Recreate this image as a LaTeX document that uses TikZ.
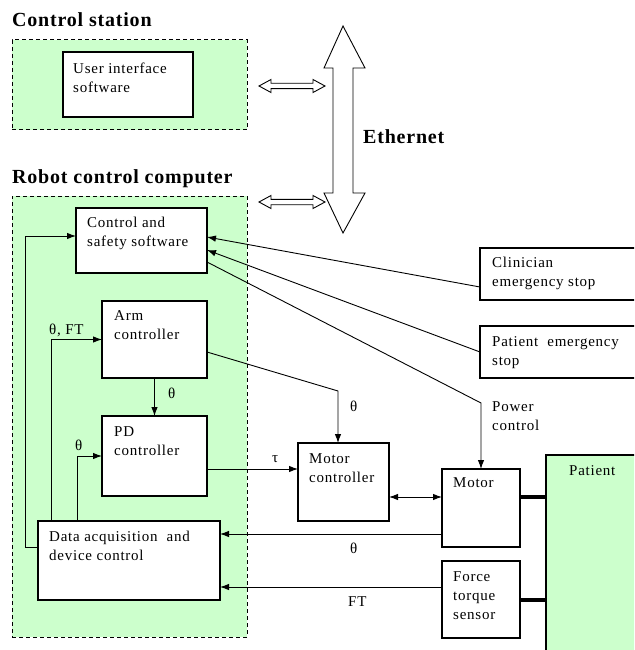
\documentclass[tikz,border=0pt]{standalone}
\usepackage{fontspec}
\setmainfont{Liberation Serif}
\newfontfamily\boxfont[LetterSpace=5]{Liberation Serif}
\newfontfamily\headfont[LetterSpace=4]{Liberation Serif}
\usetikzlibrary{arrows.meta,calc}
\definecolor{zonegreen}{RGB}{204,255,204}

\tikzset{
  zone/.style={draw, dash pattern=on 4pt off 3pt, fill=zonegreen, line width=1pt, inner sep=0pt, outer sep=0pt, anchor=north west},
  blk/.style={draw, fill=white, line width=1.1pt, inner sep=0pt, outer sep=0pt, anchor=north west},
  txt/.style={inner sep=0pt, anchor=north west, align=left, font=\boxfont\fontsize{15}{19}\selectfont},
  head/.style={inner sep=0pt, anchor=base west, font=\headfont\bfseries\fontsize{20}{24}\selectfont},
  sig/.style={inner sep=0pt, anchor=base west, font=\boxfont\fontsize{15}{18}\selectfont},
  arr/.style={line width=0.9pt, -{Latex[length=9pt,width=6.5pt]}},
  dblarr/.style={line width=0.9pt, {Latex[length=9pt,width=6.5pt]}-{Latex[length=9pt,width=6.5pt]}},
  hollow/.style={draw, line width=0.9pt, fill=white, line join=miter},
  shaft/.style={line width=4pt},
}

% hollow two-headed arrow: left x, right x, y
\newcommand\dblhollow[3]{%
  \draw[hollow] (#1,#3) -- (#1+12,#3-6.5) -- (#1+12,#3-2.7) -- (#2-12,#3-2.7)
    -- (#2-12,#3-6.5) -- (#2,#3) -- (#2-12,#3+6.5) -- (#2-12,#3+2.7)
    -- (#1+12,#3+2.7) -- (#1+12,#3+6.5) -- cycle;}

\begin{document}
\begin{tikzpicture}[x=1pt, y=-1pt]
  \clip (0,0) rectangle (634,650);
  \fill[white] (0,0) rectangle (634,650);

  % ---- control station ----
  \node[head] (hstation) at (12,27) {Control station};
  \node[zone, minimum width=235pt, minimum height=90pt] (station) at (12,40) {};
  \node[blk, minimum width=130pt, minimum height=65pt] (ui) at (63,52) {};
  \node[txt] (tui) at (73,63) {User interface\\software};

  % ---- robot control computer ----
  \node[head] (hrobot) at (12,183) {Robot control computer};
  \node[zone, minimum width=235pt, minimum height=441pt] (robot) at (12,196) {};
  \node[blk, minimum width=131pt, minimum height=65pt] (safe) at (76,208) {};
  \node[txt] at (87,217) {Control and\\safety software};
  \node[blk, minimum width=105pt, minimum height=77pt] (arm) at (102,301) {};
  \node[txt] at (114,310) {Arm\\controller};
  \node[blk, minimum width=105pt, minimum height=80pt] (pd) at (102,416) {};
  \node[txt] at (114,426) {PD\\controller};
  \node[blk, minimum width=182pt, minimum height=79pt] (daq) at (38,521) {};
  \node[txt] at (49,531) {Data acquisition\ \ and\\device control};

  % ---- Ethernet ----
  \dblhollow{259}{325}{86}
  \dblhollow{259}{325}{202}
  \draw[hollow] (343,26) -- (365,68) -- (353,68) -- (353,193) -- (365,193)
    -- (343,233) -- (324,193) -- (333,193) -- (333,68) -- (324,68) -- cycle;
  \node[head] (heth) at (363,143) {Ethernet};

  % ---- devices ----
  \node[blk, minimum width=91pt, minimum height=78pt] (mctrl) at (298,443) {};
  \node[txt] at (309,453) {Motor\\controller};
  \node[blk, minimum width=78pt, minimum height=78pt] (motor) at (442,469) {};
  \node[txt] at (453,477) {Motor};
  \node[blk, minimum width=78pt, minimum height=77pt] (ft) at (442,561) {};
  \node[txt] at (453,571) {Force\\torque\\sensor};
  \node[draw, fill=zonegreen, line width=2pt, inner sep=0pt, outer sep=0pt, anchor=north west,
        minimum width=110pt, minimum height=220pt] (patient) at (546,455) {};
  \node[txt] at (569,465) {Patient};
  \node[blk, minimum width=170pt, minimum height=52pt] (clin) at (480,248) {};
  \node[txt] at (492,257) {Clinician\\emergency stop};
  \node[blk, minimum width=170pt, minimum height=52pt] (pstop) at (480,326) {};
  \node[txt] at (492,336) {Patient\ \ emergency\\stop};

  % ---- connectors ----
  % emergency stops into the safety software
  \draw[arr] ([yshift=-13pt]clin.west) -- ([yshift=3.5pt]safe.east);
  \draw[arr] (pstop.west) -- ([yshift=-9.5pt]safe.east);
  % power control
  \coordinate (pbend) at (481,403);
  \draw[arr] ([yshift=-21.5pt]safe.east) -- (pbend) -- (pbend |- motor.north);
  \node[txt] at (492,401) {Power\\control};
  % arm controller to motor controller
  \coordinate (abend) at (338,391);
  \draw[arr] ([yshift=-12.5pt]arm.east) -- (abend) -- (abend |- mctrl.north);
  \node[sig] at (350,411) {θ};
  % arm controller to PD controller
  \draw[arr] (arm.south) -- (pd.north);
  \node[sig] at (168,398) {θ};
  % PD controller torque
  \coordinate (pdout) at ([yshift=-13pt]pd.east);
  \draw[arr] (pdout) -- (pdout -| mctrl.west);
  \node[sig] at (272,462) {τ};
  % motor controller and motor
  \coordinate (mcout) at ([yshift=-15pt]mctrl.east);
  \draw[dblarr] (mcout) -- (mcout -| motor.west);
  % measurements back to data acquisition
  \coordinate (mout) at ([yshift=-26pt]motor.west);
  \draw[arr] (mout) -- (mout -| daq.east);
  \node[sig] at (350,553) {θ};
  \coordinate (fout) at ([yshift=12.5pt]ft.west);
  \draw[arr] (fout) -- (fout -| daq.east);
  \node[sig] at (348,606) {FT};
  % mechanical links to the patient
  \draw[shaft] (mcout -| motor.east) -- (mcout -| patient.west);
  \coordinate (flink) at (ft.east |- 0,600);
  \draw[shaft] (flink) -- (flink -| patient.west);

  % ---- feedback loops inside the computer ----
  \coordinate (f1) at (25,0);
  \coordinate (f2) at (51,0);
  \coordinate (f3) at (77,0);
  \coordinate (d1) at ([yshift=13.5pt]daq.west);
  \coordinate (s1) at ([yshift=4.5pt]safe.west);
  \draw[arr] (d1) -- (d1 -| f1) |- (s1);
  \draw[arr] (f2 |- daq.north) |- (arm.west);
  \node[sig] at (49,334) {θ, FT};
  \draw[arr] (f3 |- daq.north) |- (pd.west);
  \node[sig] at (75,450) {θ};
\end{tikzpicture}
\end{document}
